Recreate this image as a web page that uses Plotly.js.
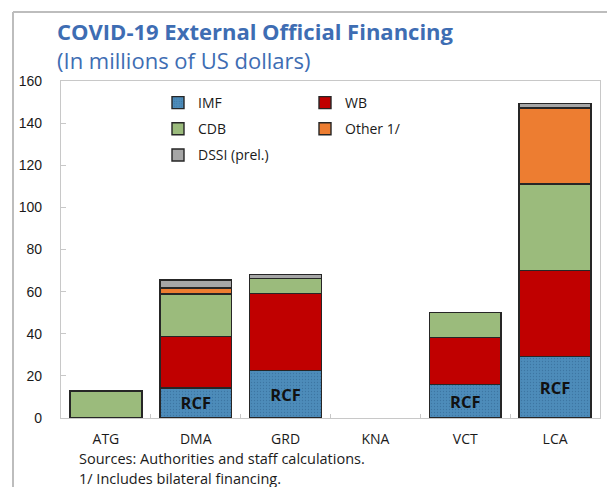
<!DOCTYPE html>
<html>
<head>
<meta charset="utf-8">
<script src="https://cdn.plot.ly/plotly-3.0.1.min.js"></script>
<style>html,body{margin:0;padding:0;background:#fff;}#chart{width:607px;height:487px;}</style>
</head>
<body>
<div id="chart"></div>
<script>
// Data (millions of US dollars)
var categories = ['ATG', 'DMA', 'GRD', 'KNA', 'VCT', 'LCA'];
var imfValues   = [null, 14.3, 22.6, null, 15.9, 29.3];
var wbValues    = [null, 24.5, 36.6, null, 22.3, 40.8];
var cdbValues   = [12.8, 20.1, 7.1, null, 11.8, 41.0];
var otherValues = [null, 2.8, null, null, null, 36.1];
var dssiValues  = [null, 3.9, 1.7, null, null, 2.2];
var imfLabels   = ['', 'RCF', 'RCF', '', 'RCF', 'RCF'];
var yTicks = [0, 20, 40, 60, 80, 100, 120, 140, 160];

var W = 607, H = 487;
var M = {l: 61, r: 7, t: 81, b: 69};
var pw = W - M.l - M.r, ph = H - M.t - M.b;
function px(x) { return (x - M.l) / pw; }
function py(y) { return (H - M.b - y) / ph; }

var lineStyle = {color: '#262626', width: 1.4};
function barTrace(name, vals, color, legendId, extra) {
  var t = {
    type: 'bar', name: name, x: categories, y: vals,
    marker: {color: color, line: lineStyle},
    legend: legendId, legendgroup: name, hoverinfo: 'none'
  };
  for (var k in extra) t[k] = extra[k];
  return t;
}

var traces = [
  barTrace('IMF', imfValues, '#4a89b8', 'legend', {
    text: imfLabels, textposition: 'inside', insidetextanchor: 'middle',
    constraintext: 'none',
    textfont: {family: 'Open Sans', size: 16.5, color: '#111', weight: 'bold'},
    marker: {color: '#4a89b8', line: lineStyle,
      pattern: {shape: '.', size: 3, solidity: 0.15, fgcolor: '#3d76a3', bgcolor: '#4d8cba', fillmode: 'replace'}}
  }),
  barTrace('WB', wbValues, '#c00000', 'legend2', {}),
  barTrace('CDB', cdbValues, '#9bbb7c', 'legend', {}),
  barTrace('Other 1/', otherValues, '#ed7d31', 'legend2', {}),
  barTrace('DSSI (prel.)', dssiValues, '#a6a6a6', 'legend', {})
];

var titleColor = '#3e6db3';
var legendFont = {family: 'Open Sans', size: 14, color: '#1a1a1a'};

var layout = {
  width: W, height: H,
  margin: M,
  paper_bgcolor: '#fff', plot_bgcolor: '#fff',
  barmode: 'stack', bargap: 0.2,
  showlegend: true,
  legend: {x: px(158), xanchor: 'left', y: py(87), yanchor: 'top',
    orientation: 'v', font: legendFont, tracegroupgap: 5, bgcolor: 'rgba(0,0,0,0)'},
  legend2: {x: px(305), xanchor: 'left', y: py(87), yanchor: 'top',
    orientation: 'v', font: legendFont, tracegroupgap: 5, bgcolor: 'rgba(0,0,0,0)'},
  xaxis: {
    type: 'category', showline: true, linecolor: '#c8c8c8', linewidth: 1.2, mirror: true,
    ticks: 'inside', tickson: 'boundaries', ticklen: 4, tickcolor: '#c8c8c8',
    tickfont: {family: 'Open Sans', size: 14, color: '#1a1a1a'},
    ticklabelstandoff: 8,
    showgrid: false, zeroline: false, fixedrange: true
  },
  yaxis: {
    range: [0, 160], tickvals: yTicks, ticktext: yTicks.map(String),
    showline: true, linecolor: '#c8c8c8', linewidth: 1.2, mirror: true,
    ticks: 'inside', ticklen: 5, tickcolor: '#c8c8c8',
    tickfont: {family: 'Liberation Sans', size: 14, color: '#1a1a1a'},
    ticklabelstandoff: 15,
    showgrid: false, zeroline: false, fixedrange: true
  },
  shapes: [
    {type: 'line', xref: 'paper', yref: 'paper', x0: px(13), x1: px(610), y0: py(12), y1: py(12),
      line: {color: '#bdbdbd', width: 2}},
    {type: 'line', xref: 'paper', yref: 'paper', x0: px(13), x1: px(13), y0: py(12), y1: py(490),
      line: {color: '#bdbdbd', width: 2}}
  ],
  annotations: [
    {xref: 'paper', yref: 'paper', x: px(55), y: py(31), xanchor: 'left', yanchor: 'middle',
      showarrow: false, text: 'COVID-19 External Official Financing',
      font: {family: 'Open Sans', size: 22, color: titleColor, weight: 'bold'}},
    {xref: 'paper', yref: 'paper', x: px(55), y: py(60), xanchor: 'left', yanchor: 'middle',
      showarrow: false, text: '(In millions of US dollars)',
      font: {family: 'Open Sans', size: 22, color: titleColor}},
    {xref: 'paper', yref: 'paper', x: px(77), y: py(458), xanchor: 'left', yanchor: 'middle',
      showarrow: false, text: 'Sources: Authorities and staff calculations.',
      font: {family: 'Open Sans', size: 14.5, color: '#1a1a1a'}},
    {xref: 'paper', yref: 'paper', x: px(77), y: py(478), xanchor: 'left', yanchor: 'middle',
      showarrow: false, text: '1/ Includes bilateral financing.',
      font: {family: 'Open Sans', size: 14.5, color: '#1a1a1a'}}
  ]
};

Plotly.newPlot('chart', traces, layout, {staticPlot: true, displayModeBar: false});
</script>
</body>
</html>
